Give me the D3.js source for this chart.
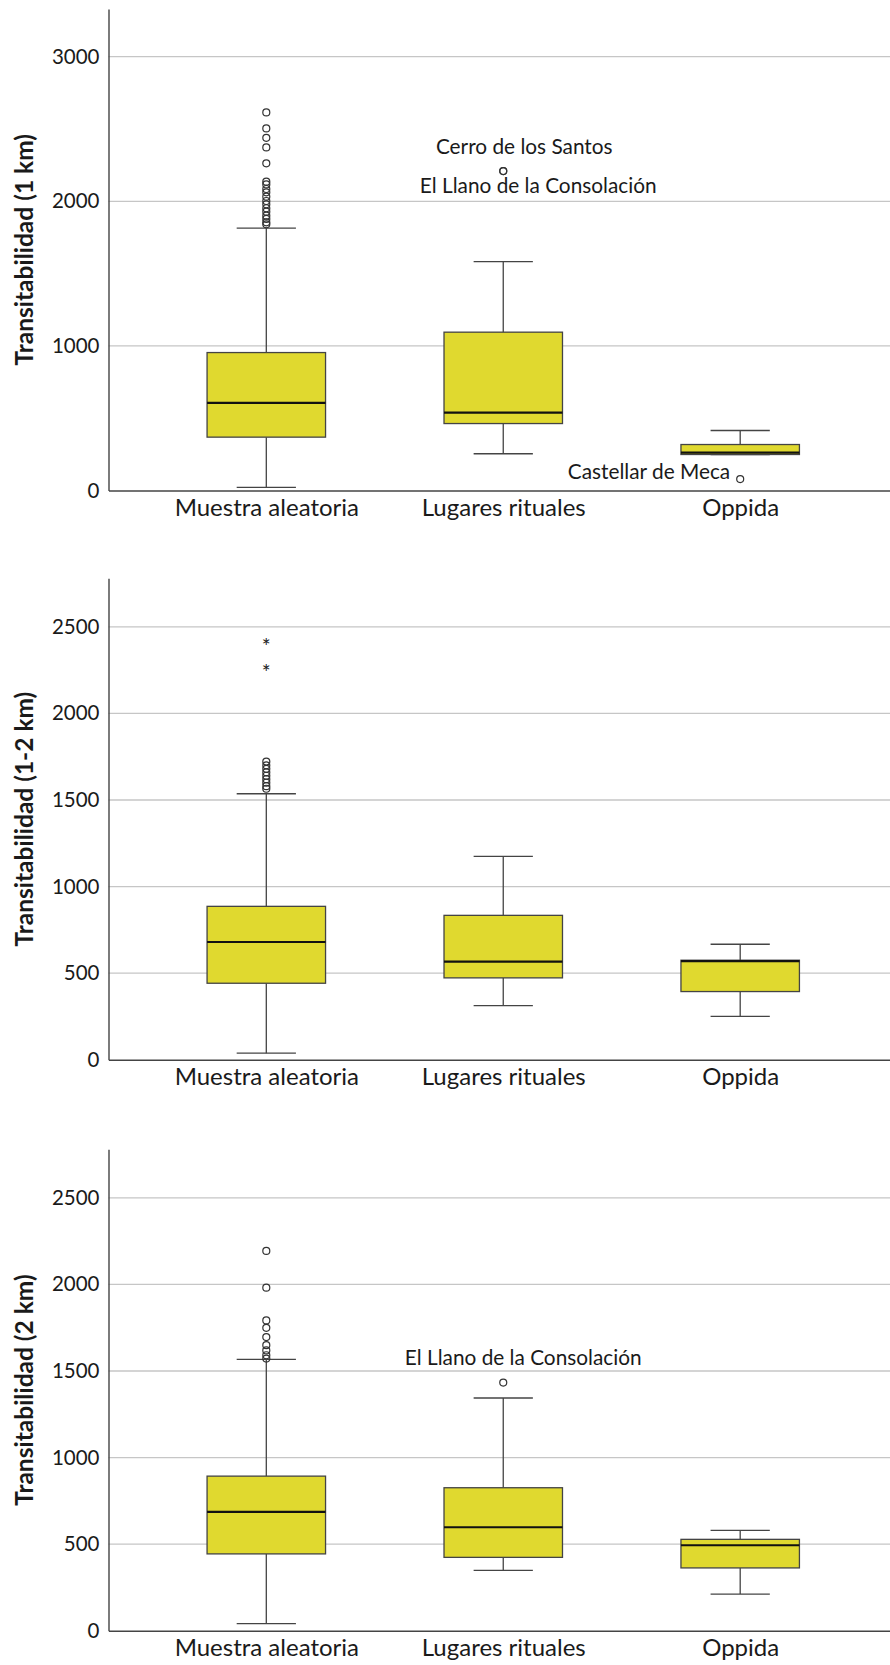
<!DOCTYPE html>
<html>
<head>
<meta charset="utf-8">
<script src="https://cdn.jsdelivr.net/npm/d3@7"></script>
<style>
  html, body { margin: 0; padding: 0; background: #ffffff; }
  svg { display: block; font-family: Lato, "Open Sans", sans-serif; }
</style>
</head>
<body>
<svg id="chart" width="890" height="1665"></svg>
<script>
// Groups compared in every panel
const categories = ["Muestra aleatoria", "Lugares rituales", "Oppida"];

// Panel titles (y axis) and axis extents
const panelTitles = ["Transitabilidad (1 km)", "Transitabilidad (1-2 km)", "Transitabilidad (2 km)"];
const panelMax = [3330, 2780, 2780];
const ticks1km = [0, 1000, 2000, 3000];
const ticks12km = [0, 500, 1000, 1500, 2000, 2500];
const ticks2km = [0, 500, 1000, 1500, 2000, 2500];

// Box statistics per panel, one entry per category: [lower whisker, Q1, median, Q3, upper whisker]
const stats1km = [
  [21, 369, 606, 954, 1814],
  [254, 463, 539, 1095, 1583],
  [249, 249, 262, 318, 415]
];
const stats12km = [
  [38, 442, 680, 886, 1536],
  [313, 473, 567, 834, 1174],
  [251, 394, 570, 575, 667]
];
const stats2km = [
  [41, 444, 687, 893, 1567],
  [349, 424, 598, 826, 1344],
  [212, 363, 494, 528, 580]
];

// Outliers (circles) and extreme values (stars): [category index, value, site name]
const outliers1km = [
  [0, 2615], [0, 2504], [0, 2439], [0, 2373], [0, 2263], [0, 2136], [0, 2117],
  [0, 2085], [0, 2062], [0, 2032], [0, 2002], [0, 1979], [0, 1952], [0, 1928],
  [0, 1901], [0, 1878], [0, 1855], [0, 1841],
  [1, 2209, "Cerro de los Santos"], [1, 2209, "El Llano de la Consolación"],
  [2, 79, "Castellar de Meca"]
];
const outliers12km = [
  [0, 1722], [0, 1700], [0, 1680], [0, 1660], [0, 1640], [0, 1620], [0, 1600],
  [0, 1580], [0, 1565]
];
const extremes12km = [[0, 2414], [0, 2261]];
const outliers2km = [
  [0, 2193], [0, 1981], [0, 1792], [0, 1749], [0, 1696], [0, 1649], [0, 1619],
  [0, 1591], [0, 1572],
  [1, 1433, "El Llano de la Consolación"]
];
const extremes2km = [];

// Placement of the site-name labels relative to their point (dy to the text baseline)
const labelPlacement = {
  "1km|Cerro de los Santos": { dx: 21, dy: -17.5, anchor: "middle" },
  "1km|El Llano de la Consolación": { dx: 35, dy: 22, anchor: "middle" },
  "1km|Castellar de Meca": { dx: -10, dy: 0, anchor: "end" },
  "2km|El Llano de la Consolación": { dx: 20, dy: -18, anchor: "middle" }
};

const panels = [
  { key: "1km", title: panelTitles[0], max: panelMax[0], ticks: ticks1km, stats: stats1km, outliers: outliers1km, extremes: [], top: 9 },
  { key: "12km", title: panelTitles[1], max: panelMax[1], ticks: ticks12km, stats: stats12km, outliers: outliers12km, extremes: extremes12km, top: 578.3 },
  { key: "2km", title: panelTitles[2], max: panelMax[2], ticks: ticks2km, stats: stats2km, outliers: outliers2km, extremes: extremes2km, top: 1149.3 }
];

const plotLeft = 108.5;
const plotRight = 898;
const plotHeight = 481.5;
const boxFill = "#e0d92f";
const lineColor = "#444444";

const svg = d3.select("#chart");

const x = d3.scalePoint()
  .domain(categories)
  .range([plotLeft, plotRight])
  .padding(0.666);
const step = x.step();
const boxW = step / 2;
const capW = boxW / 2;

panels.forEach(p => {
  const g = svg.append("g").attr("transform", `translate(0,${p.top})`);
  const y = d3.scaleLinear().domain([0, p.max]).range([plotHeight, 0]);

  // Horizontal gridlines
  g.append("g")
    .selectAll("line")
    .data(p.ticks.filter(t => t > 0))
    .join("line")
    .attr("x1", plotLeft).attr("x2", plotRight)
    .attr("y1", d => y(d)).attr("y2", d => y(d))
    .attr("stroke", "#c6c6c6").attr("stroke-width", 1.3);

  // Y axis
  const yAxis = d3.axisLeft(y).tickValues(p.ticks).tickSize(0).tickPadding(9).tickFormat(d3.format("d"));
  const ya = g.append("g").attr("transform", `translate(${plotLeft},0)`).call(yAxis);
  ya.select(".domain").attr("stroke", lineColor).attr("stroke-width", 1.4);
  ya.selectAll("text").attr("font-size", 20.5).attr("fill", "#1a1a1a").attr("font-family", "Lato, sans-serif");

  // X axis
  const xAxis = d3.axisBottom(x).tickSize(0).tickPadding(8);
  const xa = g.append("g").attr("transform", `translate(0,${plotHeight})`).call(xAxis);
  xa.select(".domain").attr("stroke", lineColor).attr("stroke-width", 1.4);
  xa.selectAll("text").attr("font-size", 24).attr("fill", "#1a1a1a").attr("font-family", "Lato, sans-serif");

  // Y axis title
  g.append("text")
    .attr("transform", `translate(23,${plotHeight / 2}) rotate(-90)`)
    .attr("text-anchor", "middle")
    .attr("dominant-baseline", "central")
    .attr("font-size", 24.5)
    .attr("font-weight", "bold")
    .attr("fill", "#1a1a1a")
    .text(p.title);

  // Boxes
  const boxes = g.append("g")
    .selectAll("g")
    .data(p.stats.map((s, i) => ({ cat: categories[i], lo: s[0], q1: s[1], med: s[2], q3: s[3], hi: s[4] })))
    .join("g");

  boxes.append("line")
    .attr("x1", d => x(d.cat)).attr("x2", d => x(d.cat))
    .attr("y1", d => y(d.hi)).attr("y2", d => y(d.q3))
    .attr("stroke", lineColor).attr("stroke-width", 1.3);
  boxes.append("line")
    .attr("x1", d => x(d.cat)).attr("x2", d => x(d.cat))
    .attr("y1", d => y(d.q1)).attr("y2", d => y(d.lo))
    .attr("stroke", lineColor).attr("stroke-width", 1.3);
  boxes.append("line")
    .attr("x1", d => x(d.cat) - capW / 2).attr("x2", d => x(d.cat) + capW / 2)
    .attr("y1", d => y(d.hi)).attr("y2", d => y(d.hi))
    .attr("stroke", lineColor).attr("stroke-width", 1.3);
  boxes.append("line")
    .attr("x1", d => x(d.cat) - capW / 2).attr("x2", d => x(d.cat) + capW / 2)
    .attr("y1", d => y(d.lo)).attr("y2", d => y(d.lo))
    .attr("stroke", lineColor).attr("stroke-width", 1.3);
  boxes.append("rect")
    .attr("x", d => x(d.cat) - boxW / 2)
    .attr("width", boxW)
    .attr("y", d => y(d.q3))
    .attr("height", d => y(d.q1) - y(d.q3))
    .attr("fill", boxFill)
    .attr("stroke", lineColor).attr("stroke-width", 1.3);
  boxes.append("line")
    .attr("x1", d => x(d.cat) - boxW / 2).attr("x2", d => x(d.cat) + boxW / 2)
    .attr("y1", d => y(d.med)).attr("y2", d => y(d.med))
    .attr("stroke", "#111111").attr("stroke-width", 2.2);

  // Outlier circles
  g.append("g")
    .selectAll("circle")
    .data(p.outliers)
    .join("circle")
    .attr("cx", d => x(categories[d[0]]))
    .attr("cy", d => y(d[1]))
    .attr("r", 3.5)
    .attr("fill", "none")
    .attr("stroke", "#333333").attr("stroke-width", 1.2);

  // Extreme values
  g.append("g")
    .selectAll("text")
    .data(p.extremes)
    .join("text")
    .attr("x", d => x(categories[d[0]]))
    .attr("y", d => y(d[1]) + 12)
    .attr("text-anchor", "middle")
    .attr("font-size", 21)
    .attr("fill", "#222222")
    .text("*");

  // Site names
  g.append("g")
    .selectAll("text")
    .data(p.outliers.filter(d => d[2]))
    .join("text")
    .each(function (d) {
      const pl = labelPlacement[p.key + "|" + d[2]];
      d3.select(this)
        .attr("x", x(categories[d[0]]) + pl.dx)
        .attr("y", y(d[1]) + pl.dy)
        .attr("text-anchor", pl.anchor);
    })
    .attr("font-size", 20.8)
    .attr("fill", "#1a1a1a")
    .text(d => d[2]);
});
</script>
</body>
</html>
